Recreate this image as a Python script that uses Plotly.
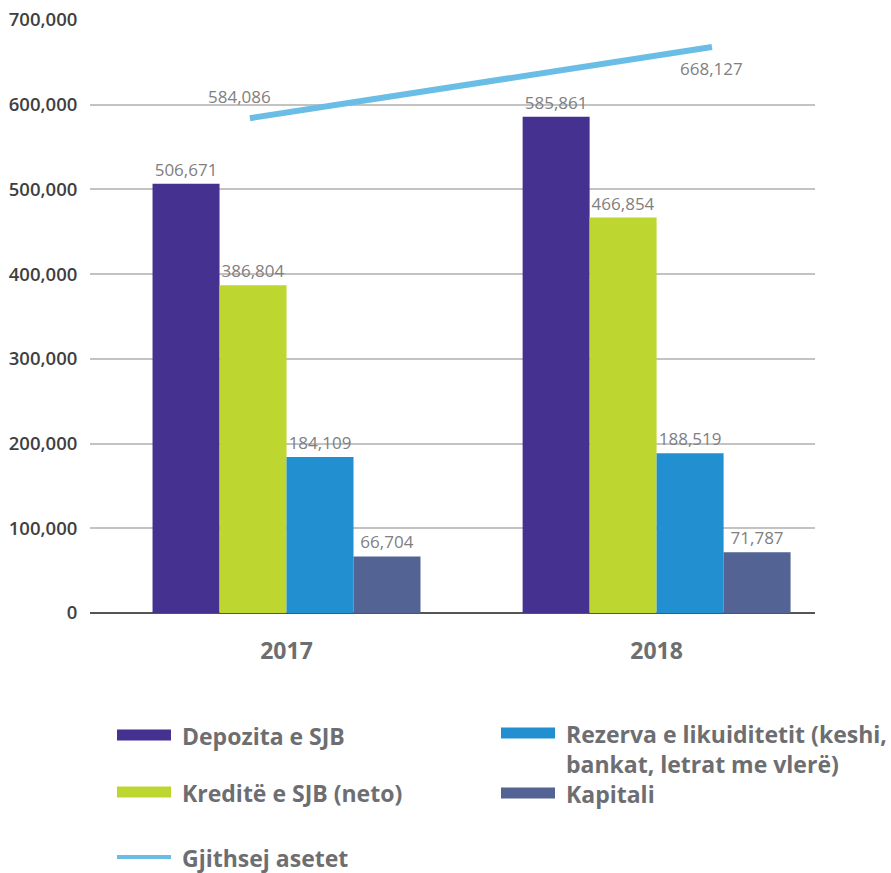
import plotly.graph_objects as go

# Data (në mijë)
years = ["2017", "2018"]
series_names = [
    "Depozita e SJB",
    "Kreditë e SJB (neto)",
    "Rezerva e likuiditetit (keshi, bankat, letrat me vlerë)",
    "Kapitali",
]
depozita = [506671, 585861]
kredite = [386804, 466854]
rezerva = [184109, 188519]
kapitali = [66704, 71787]
asetet_name = "Gjithsej asetet"
asetet = [584086, 668127]

bar_values = [depozita, kredite, rezerva, kapitali]
bar_colors = ["#45318f", "#bed630", "#2290d0", "#526394"]
line_color = "#6abee6"

W, H = 891, 873
L, R, T, B = 90, 76, 20, 260
plot_w = W - L - R
plot_h = H - T - B

label_font = dict(family="Open Sans", size=17, color="#808080")
text_grey = "#6d6e71"

fig = go.Figure()

x_idx = list(range(len(years)))
for name, vals, col in zip(series_names, bar_values, bar_colors):
    fig.add_trace(go.Bar(
        x=x_idx, y=vals, name=name, marker=dict(color=col, line=dict(width=0)),
        text=[f"{v:,}" for v in vals], textposition="outside",
        textfont=label_font, cliponaxis=False, showlegend=False,
    ))

fig.add_trace(go.Scatter(
    x=x_idx, y=asetet, name=asetet_name, mode="lines",
    line=dict(color=line_color, width=6),
    xaxis="x2", cliponaxis=False, showlegend=False,
))

annotations = []
# Value labels for the total-assets line: first above, last below
for i, v in enumerate(asetet):
    annotations.append(dict(
        xref="x2", yref="y", x=x_idx[i], y=v, text=f"{v:,}", showarrow=False,
        font=label_font, xanchor="center",
        yanchor="bottom" if i == 0 else "top",
        yshift=8 if i == 0 else -8, xshift=-10 if i == 0 else 0,
    ))


def px_x(p):
    return (p - L) / plot_w


def px_y(p):
    return (H - B - p) / plot_h


shapes = []

# Legend built from swatches and labels below the plot
legend_items = [
    ([series_names[0]], bar_colors[0], 117, 735, 11),
    ([series_names[1]], bar_colors[1], 117, 792, 11),
    ([asetet_name], line_color, 117, 857, 4),
    (["Rezerva e likuiditetit (keshi,", "bankat, letrat me vlerë)"], bar_colors[2], 501, 733, 11),
    ([series_names[3]], bar_colors[3], 501, 793, 11),
]
for lines, col, x0, yc, th in legend_items:
    shapes.append(dict(
        type="rect", xref="paper", yref="paper",
        x0=px_x(x0), x1=px_x(x0 + 54),
        y0=px_y(yc + th / 2), y1=px_y(yc - th / 2),
        fillcolor=col, line=dict(width=0), layer="above",
    ))
    for k, line in enumerate(lines):
        annotations.append(dict(
            xref="paper", yref="paper", x=px_x(x0 + 63),
            y=px_y(yc + 1 + 30 * k),
            xanchor="left", yanchor="middle",
            align="left", showarrow=False, text=line,
            font=dict(family="Open Sans", size=23, color=text_grey, weight="bold"),
        ))

fig.update_layout(
    width=W, height=H,
    margin=dict(l=L, r=R, t=T, b=B, autoexpand=False),
    plot_bgcolor="white", paper_bgcolor="white",
    barmode="group", bargap=0.276, bargroupgap=0,
    xaxis=dict(
        range=[-0.531, 1.428], tickmode="array", tickvals=x_idx, ticktext=years,
        showgrid=False, zeroline=False, showline=False, ticks="",
        ticklabelstandoff=22,
        tickfont=dict(family="Open Sans", size=23, color=text_grey, weight="bold"),
    ),
    xaxis2=dict(
        range=[-0.346, 1.223], overlaying="x", visible=False,
    ),
    yaxis=dict(
        range=[0, 700000], tickvals=[0, 100000, 200000, 300000, 400000, 500000, 600000, 700000],
        tickformat=",d", showgrid=True, gridcolor="#c3c3c3", gridwidth=1.5,
        zeroline=True, zerolinecolor="#555555", zerolinewidth=1.5,
        ticks="outside", ticklen=8, tickcolor="white",
        tickfont=dict(family="Open Sans", size=18.5, color="#3f3f3f", weight=600),
    ),
    shapes=shapes, annotations=annotations,
)

fig.write_html("out.html")
